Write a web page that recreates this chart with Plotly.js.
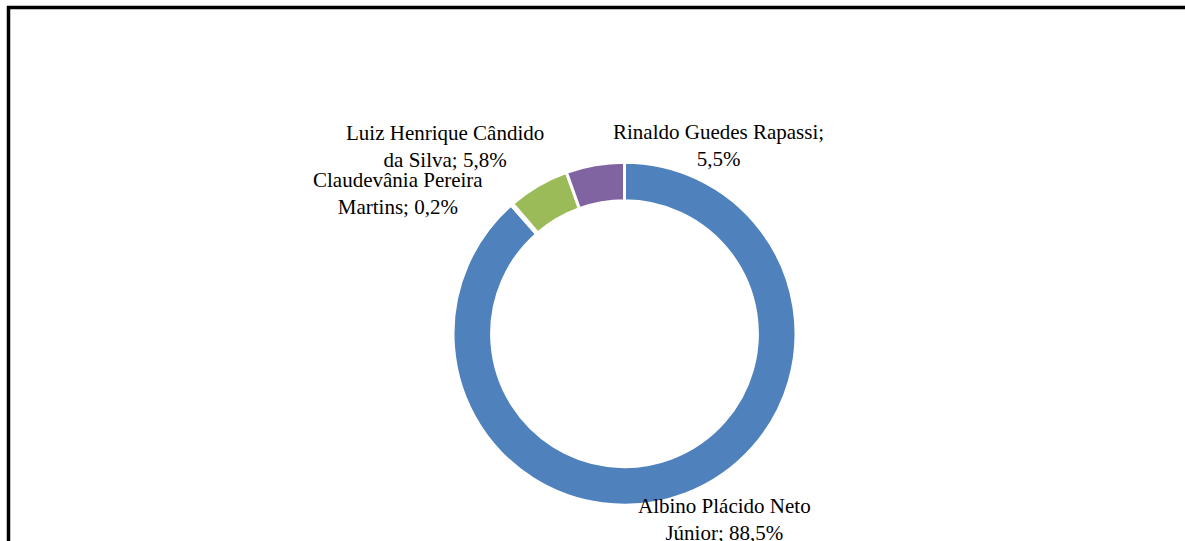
<!DOCTYPE html>
<html>
<head>
<meta charset="utf-8">
<script src="https://cdn.plot.ly/plotly-3.0.1.min.js"></script>
<style>
html,body{margin:0;padding:0;background:#fff;}
#chart{width:1185px;height:541px;}
</style>
</head>
<body>
<div id="chart"></div>
<script>
// Data
const candidates = ["Albino Plácido Neto Júnior", "Claudevânia Pereira Martins", "Luiz Henrique Cândido da Silva", "Rinaldo Guedes Rapassi"];
const shares = [88.5, 0.2, 5.8, 5.5];
const sliceColors = ["#4F81BD", "#C0504D", "#9BBB59", "#8064A2"];
// label line splits (first line, rest of name)
const labelFirstLine = ["Albino Plácido Neto", "Claudevânia Pereira", "Luiz Henrique Cândido", "Rinaldo Guedes Rapassi;"];
const labelSecondLine = ["Júnior; ", "Martins; ", "da Silva; ", ""];

const W = 1185, H = 541;
const cx = 624.5, cy = 333.7, r = 171.5;

// label centers (pixels)
const labelPos = [[724, 519], [398, 193], [445, 146], [718, 145]];

function fmt(v){ return v.toFixed(1).replace('.', ',') + '%'; }

const annotations = candidates.map((c, i) => ({
  xref: 'paper', yref: 'paper',
  x: labelPos[i][0] / W, y: 1 - labelPos[i][1] / H,
  xanchor: 'center', yanchor: 'middle',
  text: labelFirstLine[i] + '<br>' + labelSecondLine[i] + fmt(shares[i]),
  showarrow: false,
  align: 'center',
  font: {family: '"Liberation Serif", "Times New Roman", serif', size: 21, color: '#000'}
}));

const trace = {
  type: 'pie',
  labels: candidates,
  values: shares,
  sort: false,
  direction: 'clockwise',
  rotation: 0,
  hole: 0.775,
  textinfo: 'none',
  hoverinfo: 'label+percent',
  marker: {colors: sliceColors, line: {color: '#ffffff', width: 3}},
  domain: {x: [(cx - r) / W, (cx + r) / W], y: [1 - (cy + r) / H, 1 - (cy - r) / H]}
};

const layout = {
  width: W, height: H,
  margin: {l: 0, r: 0, t: 0, b: 0},
  paper_bgcolor: '#ffffff',
  showlegend: false,
  annotations: annotations,
  shapes: [
    {type: 'line', xref: 'paper', yref: 'paper', x0: 7 / W, x1: 1.01, y0: 1 - 7.5 / H, y1: 1 - 7.5 / H, line: {color: '#000', width: 3.5}},
    {type: 'line', xref: 'paper', yref: 'paper', x0: 8.5 / W, x1: 8.5 / W, y0: 1 - 6 / H, y1: -0.01, line: {color: '#000', width: 3.5}}
  ]
};

Plotly.newPlot('chart', [trace], layout, {displayModeBar: false, staticPlot: true});
</script>
</body>
</html>
